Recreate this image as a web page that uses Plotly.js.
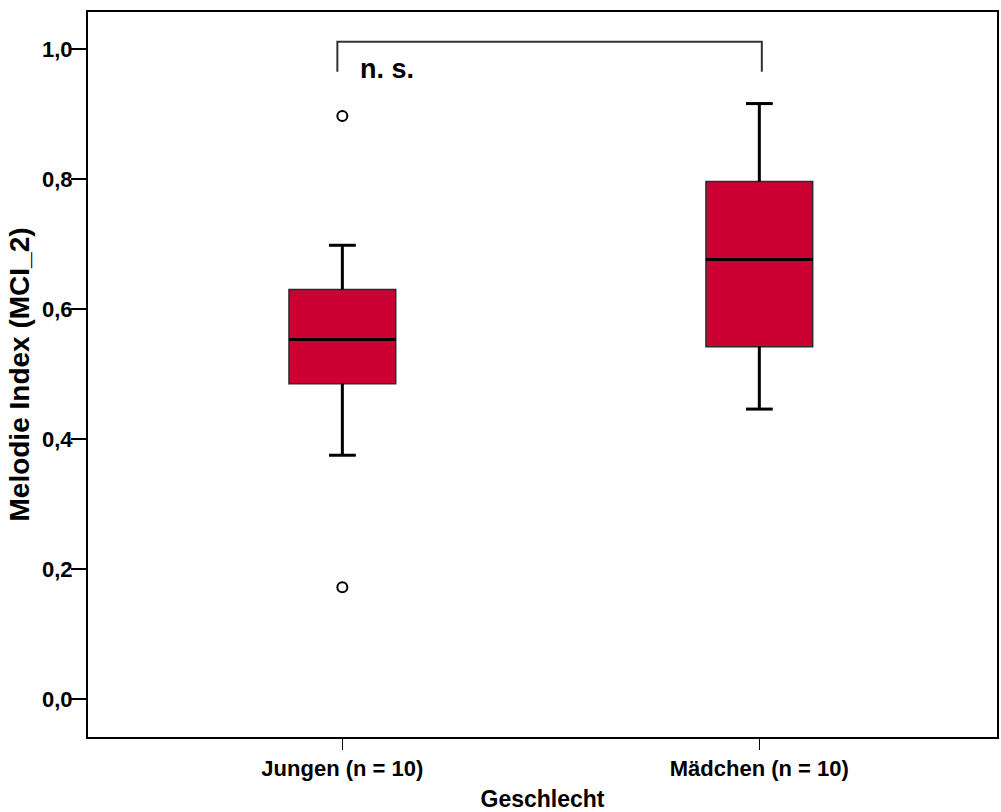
<!DOCTYPE html>
<html>
<head>
<meta charset="utf-8">
<script src="https://cdn.plot.ly/plotly-3.0.1.min.js"></script>
<style>
  html, body { margin: 0; padding: 0; background: #fff; }
  #chart { width: 1001px; height: 812px; }
</style>
</head>
<body>
<div id="chart"></div>
<script>
// Melodie Index (MCI_2) nach Geschlecht
const groups = ['Jungen (n = 10)', 'Mädchen (n = 10)'];
const groupPos = [0, 1];
const lowerWhisker = [0.375, 0.446];
const q1 = [0.485, 0.542];
const median = [0.553, 0.676];
const q3 = [0.630, 0.796];
const upperWhisker = [0.698, 0.916];
const outlierPos = [0, 0];
const outlierVal = [0.897, 0.172];
const yTicks = [0, 0.2, 0.4, 0.6, 0.8, 1.0];
const yTickText = ['0,0', '0,2', '0,4', '0,6', '0,8', '1,0'];
const sigLabel = 'n. s.';
const bracketEnds = [-0.012, 1.006];
const bracketLevels = [1.011, 0.965];

const boxWidth = 0.256;
const capWidth = boxWidth * 0.25;
const fontFam = 'Arial, "Liberation Sans", sans-serif';

// Box with precomputed statistics (thin outline)
const boxTrace = {
  type: 'box',
  x: groupPos,
  q1: q1, median: median, q3: q3,
  lowerfence: lowerWhisker, upperfence: upperWhisker,
  width: boxWidth,
  whiskerwidth: 0.25,
  fillcolor: '#cc0033',
  line: { color: '#2a2a2a', width: 1.5 },
  boxpoints: false,
  hoverinfo: 'skip',
  showlegend: false
};

// Heavier median, whiskers and caps drawn on top of the boxes
const segX = [], segY = [];
groupPos.forEach((c, i) => {
  segX.push(c - boxWidth / 2, c + boxWidth / 2, null); segY.push(median[i], median[i], null);
  segX.push(c, c, null); segY.push(q3[i], upperWhisker[i], null);
  segX.push(c, c, null); segY.push(q1[i], lowerWhisker[i], null);
  segX.push(c - capWidth / 2, c + capWidth / 2, null); segY.push(upperWhisker[i], upperWhisker[i], null);
  segX.push(c - capWidth / 2, c + capWidth / 2, null); segY.push(lowerWhisker[i], lowerWhisker[i], null);
});
const strokeTrace = {
  type: 'scatter', mode: 'lines',
  x: segX, y: segY,
  line: { color: '#000', width: 3 },
  hoverinfo: 'skip', showlegend: false
};

const outlierTrace = {
  type: 'scatter', mode: 'markers',
  x: outlierPos, y: outlierVal,
  marker: { symbol: 'circle-open', size: 10, color: '#000', line: { width: 2, color: '#000' } },
  hoverinfo: 'skip', showlegend: false
};

// Significance bracket between the two groups
const bracketTrace = {
  type: 'scatter', mode: 'lines',
  x: [bracketEnds[0], bracketEnds[0], bracketEnds[1], bracketEnds[1]],
  y: [bracketLevels[1], bracketLevels[0], bracketLevels[0], bracketLevels[1]],
  line: { color: '#333', width: 2 },
  hoverinfo: 'skip', showlegend: false
};

const layout = {
  width: 1001, height: 812,
  margin: { l: 88, r: 4, t: 12, b: 75 },
  paper_bgcolor: '#fff', plot_bgcolor: '#fff',
  showlegend: false,
  xaxis: {
    range: [-0.610, 1.570],
    tickvals: groupPos, ticktext: groups,
    ticks: 'outside', ticklen: 11, tickwidth: 1.5, tickcolor: '#000',
    showline: true, linecolor: '#000', linewidth: 2, mirror: true,
    showgrid: false, zeroline: false,
    tickfont: { family: fontFam, size: 22, color: '#000', weight: 'bold' },
    title: { text: 'Geschlecht', font: { family: fontFam, size: 23, color: '#000', weight: 'bold' }, standoff: 12 }
  },
  yaxis: {
    range: [-0.0585, 1.0569],
    tickvals: yTicks, ticktext: yTickText,
    ticks: 'outside', ticklen: 15, tickwidth: 1.5, tickcolor: '#000',
    ticklabelstandoff: -6,
    showline: true, linecolor: '#000', linewidth: 2, mirror: true,
    showgrid: false, zeroline: false,
    tickfont: { family: fontFam, size: 22, color: '#000', weight: 'bold' },
    title: { text: 'Melodie Index (MCI_2)', font: { family: fontFam, size: 28, color: '#000', weight: 'bold' }, standoff: 4 }
  },
  annotations: [{
    x: 0.038, y: 0.969, xref: 'x', yref: 'y',
    xanchor: 'left', yanchor: 'middle',
    text: sigLabel, showarrow: false,
    font: { family: fontFam, size: 27, color: '#000', weight: 'bold' }
  }]
};

Plotly.newPlot('chart', [boxTrace, strokeTrace, outlierTrace, bracketTrace], layout,
  { displayModeBar: false, staticPlot: true });
</script>
</body>
</html>
